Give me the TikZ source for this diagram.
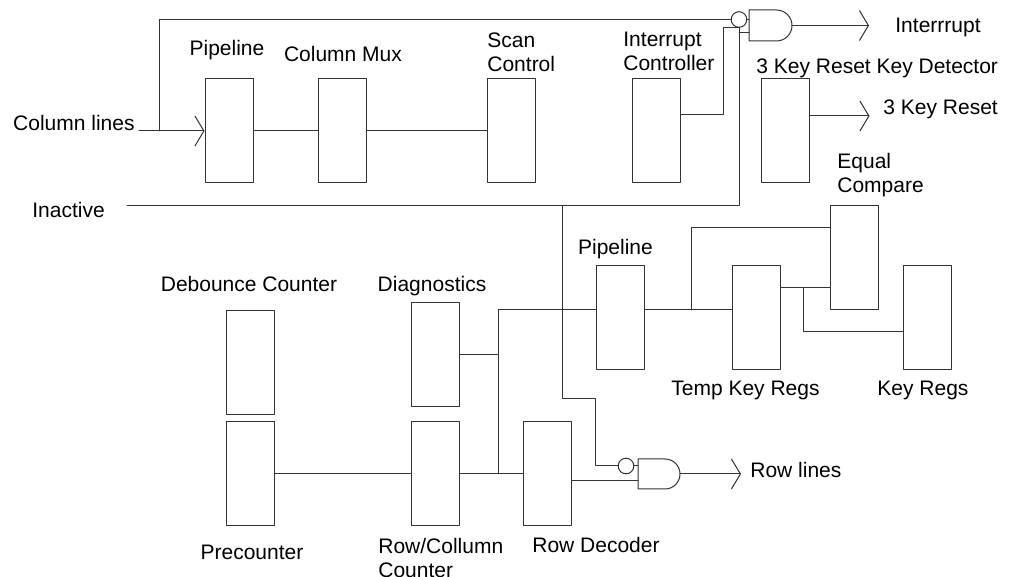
\documentclass[tikz,border=0pt]{standalone}
\usepackage{fontspec}
\setmainfont{Liberation Sans}
\usetikzlibrary{arrows.meta}

\begin{document}
\begin{tikzpicture}[x=0.5pt,y=-0.5pt,line cap=round,line join=round,
  wire/.style={draw=black!80,line width=0.5pt},
  blk/.style={draw=black!80,line width=0.5pt,minimum width=24pt,minimum height=52pt,inner sep=0pt},
  bub/.style={draw=black!80,line width=0.5pt,circle,minimum size=7.8pt,inner sep=0pt},
  lbl/.style={inner sep=0pt,font=\fontsize{10.5}{12}\selectfont},
  arr/.style={-{Straight Barb[length=4.5pt,width=15pt]}}]
  \useasboundingbox (0,0) rectangle (1014,577);
  % blocks
  \node[blk] (pipeA) at (229,131) {};
  \node[blk] (colmux) at (342.5,131) {};
  \node[blk] (scanctl) at (511.5,131) {};
  \node[blk] (intctl) at (656,131) {};
  \node[blk] (keydet) at (785,131) {};
  \node[blk] (eqcmp) at (854.5,258) {};
  \node[blk] (pipeB) at (620,318) {};
  \node[blk] (tmpkey) at (756,318) {};
  \node[blk] (keyregs) at (927,318) {};
  \node[blk] (debounce) at (250,363) {};
  \node[blk] (diag) at (435,355) {};
  \node[blk] (precnt) at (250,474) {};
  \node[blk] (rowcol) at (435,474) {};
  \node[blk] (rowdec) at (547.5,474) {};
  % gates
  \coordinate (g1) at (749,25.5);
  \coordinate (g1out) at (792,25.5);
  \coordinate (g1in2) at (749,33);
  \draw[wire] (g1) ++(0,-15.5) -- ++(27.5,0) arc (-90:90:15.5) -- ++(-27.5,0) -- cycle;
  \node[bub] (b1) at (739,19.5) {};
  \coordinate (g2) at (638,474);
  \coordinate (g2out) at (680,474);
  \coordinate (g2in2) at (638,481);
  \draw[wire] (g2) ++(0,-15) -- ++(27,0) arc (-90:90:15) -- ++(-27,0) -- cycle;
  \node[bub] (b2) at (626,466) {};
  % wires
  \coordinate (clin) at (139,131);
  \coordinate (clj) at (159,131);
  \coordinate (inL) at (127,206);
  \coordinate (tap) at (562,206);
  \coordinate (rlbend) at (595,399);
  \coordinate (jA) at (498,310);
  \coordinate (jB) at (498,474);
  \coordinate (jC) at (691,310);
  \coordinate (jD) at (803,288);
  \draw[wire,arr] (clin) -- (pipeA.west);
  \draw[wire] (clj) |- (b1.west);
  \draw[wire] (pipeA) -- (colmux);
  \draw[wire] (colmux) -- (scanctl);
  \draw[wire] (intctl.east) ++(0,-16) -- ++(43,0) |- (b1.south);
  \draw[wire] (inL) -| (b1.south);
  \draw[wire] (g1in2) -- (g1in2 -| b1);
  \draw[wire] (b1.east) -- (b1.east -| g1);
  \draw[wire,arr] (g1out) -- ++(77,0);
  \draw[wire,arr] (keydet.east) ++(0,-15) -- ++(60,0);
  \draw[wire] (tap) |- (rlbend) |- (b2.west);
  \draw[wire] (b2.east) -- (b2.east -| g2);
  \draw[wire] ([yshift=-3.5pt]rowdec.east) -- (g2in2);
  \draw[wire,arr] (g2out) -- ++(61,0);
  \draw[wire] (precnt) -- (rowcol);
  \draw[wire] (rowcol) -- (rowdec);
  \draw[wire] (jB) -- (jA) -- (jA -| pipeB.west);
  \draw[wire] (diag) -- (diag -| jA);
  \draw[wire] (jA -| pipeB.east) -- (jA -| tmpkey.west);
  \draw[wire] (jC) |- ([yshift=15pt]eqcmp.west);
  \draw[wire] ([yshift=15pt]tmpkey.east) -- ([yshift=-15pt]eqcmp.west);
  \draw[wire] (jD) |- ([yshift=-7pt]keyregs.west);
  % labels
  \node[lbl,anchor=base] (tPipeA) at (227,56) {Pipeline};
  \node[lbl,anchor=base] (tColMux) at (343,62) {Column Mux};
  \node[lbl,anchor=north west,align=left] (tScan) at (487,32) {Scan\\Control};
  \node[lbl,anchor=north west,align=left] (tIntCtl) at (623,32) {Interrupt\\Controller};
  \node[lbl,anchor=base west] (tKeyDet) at (756,74) {3 Key Reset Key Detector};
  \node[lbl,anchor=base west] (tIntOut) at (895,33) {Interrrupt};
  \node[lbl,anchor=base west] (tKeyRst) at (883,115) {3 Key Reset};
  \node[lbl,anchor=north west,align=left] (tEqCmp) at (837,153) {Equal\\Compare};
  \node[lbl,anchor=base east] (tColIn) at (135,131) {Column lines};
  \node[lbl,anchor=base west] (tInact) at (32,218) {Inactive};
  \node[lbl,anchor=base] (tPipeB) at (615.5,255) {Pipeline};
  \node[lbl,anchor=base] (tDebounce) at (249,292) {Debounce Counter};
  \node[lbl,anchor=base] (tDiag) at (432,292) {Diagnostics};
  \node[lbl,anchor=base] (tTmpKey) at (745.5,396) {Temp Key Regs};
  \node[lbl,anchor=base] (tKeyRegs) at (923,396) {Key Regs};
  \node[lbl,anchor=base] (tPrecnt) at (252,560) {Precounter};
  \node[lbl,anchor=north west,align=left] (tRowCol) at (378,538) {Row/Collumn\\Counter};
  \node[lbl,anchor=base west] (tRowDec) at (532,553) {Row Decoder};
  \node[lbl,anchor=base west] (tRowOut) at (750,478) {Row lines};
\end{tikzpicture}
\end{document}
